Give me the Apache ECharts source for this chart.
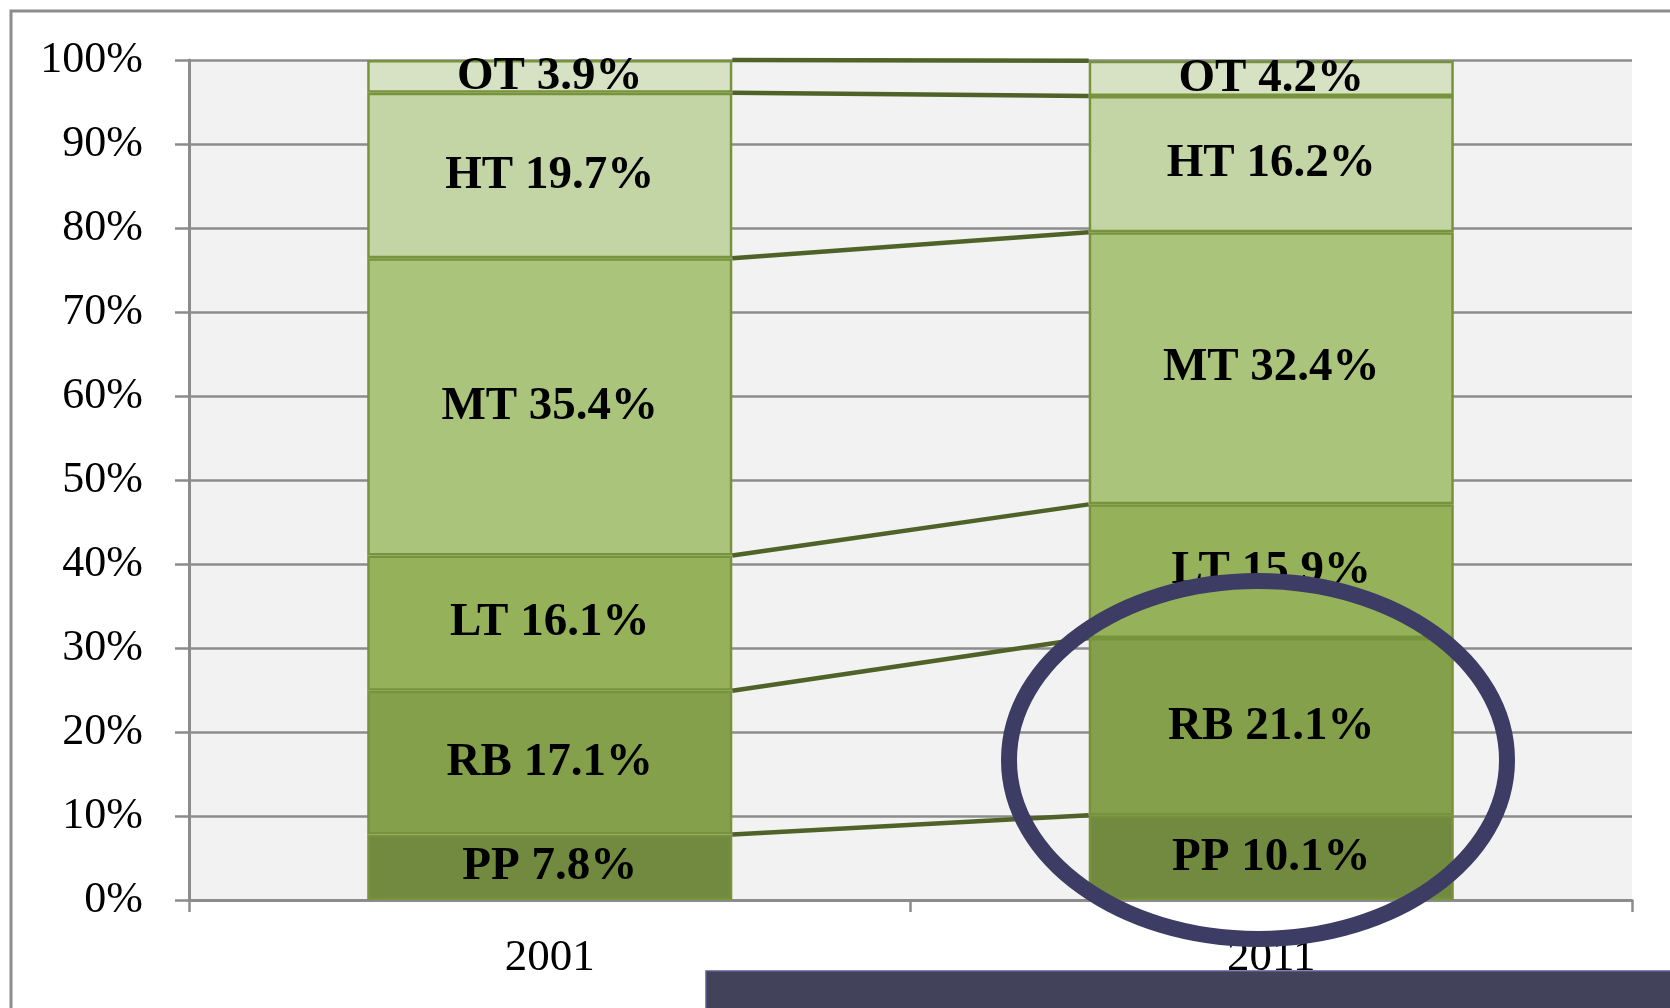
<!DOCTYPE html>
<html>
<head>
<meta charset="utf-8">
<title>Share by segment 2001 vs 2011</title>
<script src="https://cdn.jsdelivr.net/npm/echarts@6/dist/echarts.min.js"></script>
<style>
  html, body { margin: 0; padding: 0; background: #fff; }
  #chart { width: 1670px; height: 1008px; }
</style>
</head>
<body>
<div id="chart"></div>
<script>
const years = ['2001', '2011']
const segments = ['PP', 'RB', 'LT', 'MT', 'HT', 'OT']
const ppShare = [7.8, 10.1]
const rbShare = [17.1, 21.1]
const ltShare = [16.1, 15.9]
const mtShare = [35.4, 32.4]
const htShare = [19.7, 16.2]
const otShare = [3.9, 4.2]
const yTicks = [0, 10, 20, 30, 40, 50, 60, 70, 80, 90, 100]

const shares = [ppShare, rbShare, ltShare, mtShare, htShare, otShare]
const fills = ['#718A3F', '#84A04A', '#95B25A', '#AAC47C', '#C3D4A5', '#D7E2C4']
const barRatio = 0.506

// cumulative tops of each segment, used for the series lines between bars
const seriesLines = []
let cumA = 0
let cumB = 0
shares.forEach(s => {
  cumA += s[0]
  cumB += s[1]
  seriesLines.push([0, +cumA.toFixed(1), +cumB.toFixed(1)])
})

const gray = '#8C8C8C'
const serif = '"Liberation Serif", "Times New Roman", serif'

const chart = echarts.init(document.getElementById('chart'))

const barSeries = segments.map((name, i) => ({
  name: name,
  type: 'bar',
  stack: 'total',
  barWidth: (barRatio * 100) + '%',
  data: shares[i],
  itemStyle: {
    color: fills[i],
    borderColor: '#77933C',
    borderWidth: 2.5
  },
  label: {
    show: true,
    position: 'inside',
    formatter: p => p.seriesName + ' ' + p.value + '%',
    color: '#000',
    fontFamily: serif,
    fontWeight: 'bold',
    fontSize: 47
  },
  z: 3
}))

chart.setOption({
  animation: false,
  backgroundColor: '#fff',
  grid: {
    left: 189,
    right: 38,
    top: 60,
    bottom: 108,
    show: true,
    backgroundColor: '#F2F2F2',
    borderWidth: 0
  },
  xAxis: {
    type: 'category',
    data: years,
    axisLine: { lineStyle: { color: gray, width: 3 } },
    axisTick: { show: true, length: 12, lineStyle: { color: gray, width: 2.5 } },
    axisLabel: {
      color: '#000',
      fontFamily: serif,
      fontSize: 45,
      margin: 36
    }
  },
  yAxis: {
    type: 'value',
    min: yTicks[0],
    max: yTicks[yTicks.length - 1],
    interval: yTicks[1] - yTicks[0],
    axisLine: { show: true, lineStyle: { color: gray, width: 3 } },
    axisTick: { show: true, length: 14, lineStyle: { color: gray, width: 2.5 } },
    splitLine: { show: true, lineStyle: { color: gray, width: 2.5 } },
    axisLabel: {
      formatter: '{value}%',
      color: '#000',
      fontFamily: serif,
      fontSize: 44,
      margin: 46
    }
  },
  series: barSeries.concat([{
    type: 'custom',
    name: 'series lines',
    data: seriesLines,
    encode: { x: 0, y: [1, 2] },
    renderItem: (params, api) => {
      const half = api.size([1, 0])[0] * barRatio / 2
      const a = api.coord([0, api.value(1)])
      const b = api.coord([1, api.value(2)])
      return {
        type: 'line',
        shape: { x1: a[0] + half, y1: a[1], x2: b[0] - half, y2: b[1] },
        style: { stroke: '#4F6228', lineWidth: 4.5 }
      }
    },
    z: 4
  }]),
  graphic: [
    {
      type: 'rect',
      z: -10,
      shape: { x: 11, y: 11, width: 1750, height: 1100 },
      style: { fill: null, stroke: gray, lineWidth: 3 }
    },
    {
      type: 'ellipse',
      z: 100,
      shape: { cx: 1258, cy: 760, rx: 249, ry: 179 },
      style: { fill: null, stroke: '#3C3C64', lineWidth: 16 }
    },
    {
      type: 'rect',
      z: 110,
      shape: { x: 706, y: 971, width: 980, height: 60 },
      style: { fill: '#42425A', stroke: '#5E5E90', lineWidth: 1.5 }
    }
  ]
})
</script>
</body>
</html>
